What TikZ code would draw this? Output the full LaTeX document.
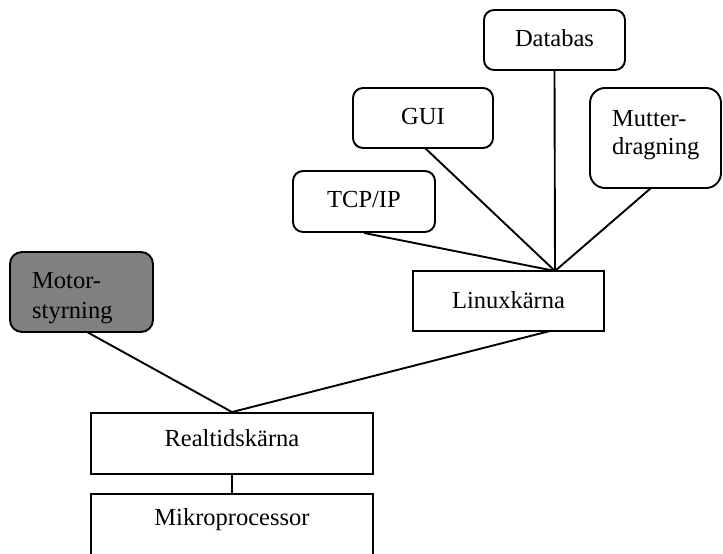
\documentclass[tikz,border=0pt]{standalone}
\usepackage{fontspec}
\setmainfont{Liberation Serif}
\begin{document}
\begin{tikzpicture}[x=1pt,y=-1pt,
  box/.style={draw,line width=1.9pt,inner sep=0pt},
  rbox/.style={box,rounded corners=10pt},
  txt/.style={font=\fontsize{24.5}{28}\selectfont,inner sep=0pt},
  wire/.style={line width=1.9pt}]
\useasboundingbox (0,0) rectangle (723,554);

% boxes
\node[rbox,minimum width=141pt,minimum height=60pt] (db)  at (554.5,40) {};
\node[rbox,minimum width=140pt,minimum height=60pt] (gui) at (423,118) {};
\node[rbox,minimum width=142pt,minimum height=61pt] (tcp) at (364,201.5) {};
\node[box,rounded corners=15pt,minimum width=131pt,minimum height=100pt] (mut) at (655.5,138) {};
\node[box,minimum width=191pt,minimum height=60pt] (lk) at (508.5,301) {};
\node[box,rounded corners=12pt,fill=black!50,minimum width=143pt,minimum height=80pt] (mot) at (81.5,292) {};
\node[box,minimum width=282pt,minimum height=61pt] (rt) at (232,443.5) {};
\node[box,minimum width=282pt,minimum height=80pt] (mp) at (232,534) {};

% labels
\node[txt] (dbt)  at (554.5,38) {Databas};
\node[txt] (guit) at (423,117) {GUI};
\node[txt] (tcpt) at (364,200) {TCP/IP};
\node[txt,align=left,anchor=north west,font=\fontsize{24.5}{28}\selectfont] (mutt) at (612,110) {Mutter-\\dragning};
\node[txt] (lkt)  at (508.5,300) {Linuxkärna};
\node[txt,align=left,anchor=north west,font=\fontsize{24.5}{30}\selectfont] (mott) at (32,272) {Motor-\\styrning};
\node[txt] (rtt)  at (232,438) {Realtidskärna};
\node[txt] (mpt)  at (232,520) {Mikroprocessor};

% connection points
\coordinate (hub) at (555,271);
\coordinate (lkout) at (550,331);
\coordinate (motout) at (87,332);
\coordinate (gout) at (425,148);
\coordinate (mout) at (651,188);

% connectors
\draw[wire] (db.south) -- (hub);
\draw[wire] (gout) -- (hub);
\draw[wire] (tcp.south) -- (hub);
\draw[wire] (mout) -- (hub);
\draw[wire] (motout) -- (rt.north);
\draw[wire] (lkout) -- (rt.north);
\draw[wire] (rt.south) -- (mp.north);
\end{tikzpicture}
\end{document}
